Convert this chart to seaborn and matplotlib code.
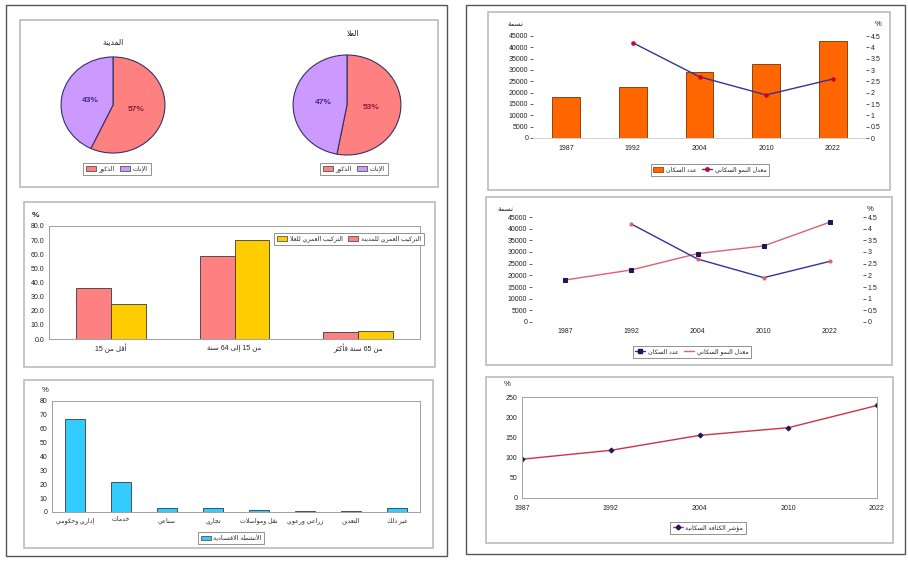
import re
import numpy as np
import pandas as pd
import matplotlib
matplotlib.use("Agg")
import matplotlib.pyplot as plt
from matplotlib.patches import Rectangle, Patch
from matplotlib.lines import Line2D
import seaborn as sns

# ---------------------------------------------------------------- data
pie_titles = ["المدينة", "العلا"]
sex_labels = ["الذكور", "الإناث"]
city_sex = [57, 43]
alula_sex = [53, 47]

age_groups = ["أقل من 15", "من 15 إلى 64 سنة", "من 65 سنة فأكثر"]
age_series = ["التركيب العمري للمدينة", "التركيب العمري للعلا"]
age_city = [36.4, 58.9, 4.7]
age_alula = [24.5, 70.0, 5.5]

sectors = ["إداري وحكومي", "خدمات", "صناعي", "تجاري", "نقل ومواصلات",
           "زراعي ورعوي", "التعدين", "غير ذلك"]
sector_share = [67.0, 21.8, 2.9, 2.6, 1.4, 0.7, 0.5, 3.1]
sector_series = "الأنشطة الاقتصادية"

years = ["1987", "1992", "2004", "2010", "2022"]
population = [18000, 22300, 29300, 32600, 42800]
growth_years = ["1992", "2004", "2010", "2022"]
growth_rate = [4.2, 2.7, 1.9, 2.6]
pop_label = "عدد السكان"
growth_label = "معدل النمو السكاني"
pop_unit = "نسمة"

density_index = [96, 118, 155, 174, 229]
density_label = "مؤشر الكثافة السكانية"

# ---------------------------------------------------------------- arabic shaping
_FORMS = {
    "ء": (0xFE80, 1), "آ": (0xFE81, 2), "أ": (0xFE83, 2), "ؤ": (0xFE85, 2),
    "إ": (0xFE87, 2), "ئ": (0xFE89, 4), "ا": (0xFE8D, 2), "ب": (0xFE8F, 4),
    "ة": (0xFE93, 2), "ت": (0xFE95, 4), "ث": (0xFE99, 4), "ج": (0xFE9D, 4),
    "ح": (0xFEA1, 4), "خ": (0xFEA5, 4), "د": (0xFEA9, 2), "ذ": (0xFEAB, 2),
    "ر": (0xFEAD, 2), "ز": (0xFEAF, 2), "س": (0xFEB1, 4), "ش": (0xFEB5, 4),
    "ص": (0xFEB9, 4), "ض": (0xFEBD, 4), "ط": (0xFEC1, 4), "ظ": (0xFEC5, 4),
    "ع": (0xFEC9, 4), "غ": (0xFECD, 4), "ف": (0xFED1, 4), "ق": (0xFED5, 4),
    "ك": (0xFED9, 4), "ل": (0xFEDD, 4), "م": (0xFEE1, 4), "ن": (0xFEE5, 4),
    "ه": (0xFEE9, 4), "و": (0xFEED, 2), "ى": (0xFEEF, 2), "ي": (0xFEF1, 4),
}
_LAM_ALEF = {"آ": 0xFEF5, "أ": 0xFEF7, "إ": 0xFEF9, "ا": 0xFEFB}


def ar(text):
    """Join Arabic letters into presentation forms and lay them out right-to-left."""
    toks, i = [], 0
    while i < len(text):
        c = text[i]
        if c == "ل" and i + 1 < len(text) and text[i + 1] in _LAM_ALEF:
            toks.append(("LA", _LAM_ALEF[text[i + 1]]))
            i += 2
        else:
            toks.append((c, None))
            i += 1

    def nforms(t):
        return 2 if t[0] == "LA" else _FORMS.get(t[0], (0, 0))[1]

    out = []
    for k, t in enumerate(toks):
        n = nforms(t)
        if n == 0:
            out.append(t[0])
            continue
        base = t[1] if t[0] == "LA" else _FORMS[t[0]][0]
        prev_j = k > 0 and nforms(toks[k - 1]) == 4
        next_j = n == 4 and k + 1 < len(toks) and nforms(toks[k + 1]) >= 2
        if n == 1:
            idx = 0
        elif prev_j and next_j:
            idx = 3
        elif prev_j:
            idx = 1
        elif next_j:
            idx = 2
        else:
            idx = 0
        out.append(chr(base + idx))
    s = "".join(out)[::-1]
    return re.sub(r"[0-9.%/]+", lambda m: m.group(0)[::-1], s)


# ---------------------------------------------------------------- style
sns.set_style("white")
plt.rcParams["font.family"] = ["Liberation Sans", "DejaVu Sans"]
plt.rcParams["axes.unicode_minus"] = False

W, H = 908, 561
fig = plt.figure(figsize=(W / 100, H / 100), dpi=100)
fig.patch.set_facecolor("white")

RED = "#FF8080"
PURPLE = "#CC99FF"
YELLOW = "#FFCC00"
CYAN = "#33CCFF"
ORANGE = "#FF6600"
NAVY = "#333399"
EDGE = "#3A3A3A"
GRID = "#A0A0A0"
TXT = "#222222"
FS = 5


def px_axes(x0, y0, x1, y1):
    return fig.add_axes([x0 / W, 1 - y1 / H, (x1 - x0) / W, (y1 - y0) / H])


def fig_text(x, y, s, **kw):
    kw.setdefault("fontsize", FS)
    kw.setdefault("color", TXT)
    fig.text(x / W, 1 - y / H, s, ha=kw.pop("ha", "center"), va=kw.pop("va", "center"), **kw)


def box(x0, y0, x1, y1, color, lw):
    fig.patches.append(Rectangle((x0 / W, 1 - y1 / H), (x1 - x0) / W, (y1 - y0) / H,
                                 transform=fig.transFigure, fill=False,
                                 edgecolor=color, linewidth=lw, zorder=0))


def legend_at(ax, handles, labels, cx, cy, ncol=None):
    leg = ax.legend(handles, labels, loc="center", ncol=ncol or len(labels),
                    bbox_to_anchor=(cx / W, 1 - cy / H), bbox_transform=fig.transFigure,
                    fontsize=4.5, frameon=True, fancybox=False, framealpha=1,
                    edgecolor="#808080", handlelength=1.6, handleheight=0.8,
                    handletextpad=0.4, columnspacing=0.9, borderpad=0.45)
    leg.get_frame().set_linewidth(0.6)
    return leg


def style_axes(ax, frame=True):
    for side in ["left", "bottom", "top", "right"]:
        ax.spines[side].set_visible(frame)
        ax.spines[side].set_color(GRID)
        ax.spines[side].set_linewidth(0.7)
    ax.tick_params(axis="both", labelsize=FS, colors=TXT, length=2, width=0.5,
                   pad=1.5)
    ax.tick_params(axis="x", length=0, pad=3.5)
    ax.set_xlabel("")
    ax.set_ylabel("")


# ---------------------------------------------------------------- page frames
box(6, 5, 447, 556, "#555555", 1.0)
box(466, 5, 905, 554, "#555555", 1.0)
box(20, 20, 438, 187, "#BBBBBB", 1.2)
box(24, 202, 435, 367, "#BBBBBB", 1.2)
box(24, 380, 433, 548, "#BBBBBB", 1.2)
box(488, 12, 890, 190, "#BBBBBB", 1.2)
box(486, 197, 892, 365, "#BBBBBB", 1.2)
box(486, 377, 893, 543, "#BBBBBB", 1.2)

# ---------------------------------------------------------------- sex pies
pie_specs = [
    (city_sex, pie_titles[0], (60, 56, 166, 154), (113, 43), (117, 169)),
    (alula_sex, pie_titles[1], (292, 54, 402, 156), (353, 35), (354, 169)),
]
for values, title, rect, tpos, lpos in pie_specs:
    ax = px_axes(*rect)
    wedges, _, autotexts = ax.pie(
        values, colors=[RED, PURPLE], startangle=90, counterclock=False,
        autopct=lambda p: f"{round(p):.0f}%", pctdistance=0.45,
        wedgeprops=dict(edgecolor="#333366", linewidth=0.8),
        textprops=dict(fontsize=6, fontweight="bold"))
    autotexts[0].set_color("#8B1A3A")
    autotexts[1].set_color("#3A2A8B")
    ax.set_aspect("auto")
    ax.set_xlim(-1.02, 1.02)
    ax.set_ylim(-1.02, 1.02)
    fig_text(*tpos, ar(title), fontsize=5.5)
    handles = [Patch(facecolor=RED, edgecolor=EDGE, linewidth=0.5),
               Patch(facecolor=PURPLE, edgecolor=EDGE, linewidth=0.5)]
    legend_at(ax, handles, [ar(s) for s in sex_labels], *lpos)

# ---------------------------------------------------------------- age structure
ax = px_axes(49, 226, 420, 339)
df_age = pd.DataFrame({
    "group": [ar(g) for g in age_groups] * 2,
    "series": [ar(age_series[0])] * 3 + [ar(age_series[1])] * 3,
    "value": age_city + age_alula,
})
sns.barplot(data=df_age, x="group", y="value", hue="series",
            palette=[RED, YELLOW], width=0.565, edgecolor=EDGE, linewidth=0.6,
            ax=ax, legend=False, saturation=1)
style_axes(ax)
ax.set_ylim(0, 80)
ax.set_xlim(-0.5, 2.5)
ax.set_yticks(np.arange(0, 81, 10))
ax.set_yticklabels([f"{v:.1f}" for v in np.arange(0, 81, 10)])
ax.set_xticks(np.arange(-0.5, 3, 1), minor=True)
ax.tick_params(axis="x", which="minor", length=2, width=0.5, color=GRID)
fig_text(35, 215, "%", fontsize=6, fontweight="bold")
handles = [Patch(facecolor=YELLOW, edgecolor=EDGE, linewidth=0.5),
           Patch(facecolor=RED, edgecolor=EDGE, linewidth=0.5)]
legend_at(ax, handles, [ar(age_series[1]), ar(age_series[0])], 349, 239)

# ---------------------------------------------------------------- economic activity
ax = px_axes(52, 401, 420, 512)
df_sec = pd.DataFrame({"sector": [ar(s) for s in sectors], "share": sector_share})
sns.barplot(data=df_sec, x="sector", y="share", color=CYAN, width=0.43,
            edgecolor=EDGE, linewidth=0.6, ax=ax, saturation=1)
style_axes(ax)
ax.set_ylim(0, 80)
ax.set_xlim(-0.5, len(sectors) - 0.5)
ax.set_yticks(np.arange(0, 81, 10))
ax.set_xticks(np.arange(-0.5, len(sectors), 1), minor=True)
ax.tick_params(axis="x", which="minor", length=2, width=0.5, color=GRID)
ax.tick_params(axis="x", labelsize=4.5)
fig_text(45, 390, "%", fontsize=5.5)
legend_at(ax, [Patch(facecolor=CYAN, edgecolor=EDGE, linewidth=0.5)],
          [ar(sector_series)], 231, 538)

# ---------------------------------------------------------------- population bars + growth
ax = px_axes(533, 36, 866, 138)
df_pop = pd.DataFrame({"year": years, "population": population})
sns.barplot(data=df_pop, x="year", y="population", color=ORANGE, width=0.42,
            edgecolor="#7A3000", linewidth=0.6, ax=ax, saturation=1)
style_axes(ax, frame=False)
ax.spines["bottom"].set_visible(True)
ax.spines["bottom"].set_color("#D0D0D0")
ax.set_ylim(0, 45000)
ax.set_xlim(-0.5, 4.5)
ax.set_yticks(np.arange(0, 45001, 5000))
ax.tick_params(axis="x", pad=5)
ax.set_xticks(np.arange(-0.5, 5, 1), minor=True)
ax.tick_params(axis="x", which="minor", length=2, width=0.5, color=GRID)
ax2 = ax.twinx()
gx = [years.index(y) for y in growth_years]
sns.lineplot(x=gx, y=growth_rate, ax=ax2, color=NAVY, linewidth=1.0,
             marker="o", markersize=2.5, markerfacecolor="#CC0033",
             markeredgecolor="#CC0033")
for s in ax2.spines.values():
    s.set_visible(False)
ax2.set_ylim(0, 4.5)
ax2.set_yticks(np.arange(0, 4.51, 0.5))
ax2.set_yticklabels([f"{v:g}" for v in np.arange(0, 4.51, 0.5)])
ax2.tick_params(axis="y", labelsize=FS, colors=TXT, length=2, width=0.5, pad=1.5)
ax2.set_ylabel("")
ax.set_xlim(-0.5, 4.5)
fig_text(515, 25, ar(pop_unit), fontsize=5)
fig_text(878, 25, "%", fontsize=5.5)
handles = [Patch(facecolor=ORANGE, edgecolor="#7A3000", linewidth=0.5),
           Line2D([], [], color=NAVY, linewidth=1, marker="o", markersize=2.5,
                  markerfacecolor="#CC0033", markeredgecolor="#CC0033")]
legend_at(ax2, handles, [ar(pop_label), ar(growth_label)], 710, 170)

# ---------------------------------------------------------------- population & growth lines
ax = px_axes(532, 217, 863, 322)
px = list(range(len(years)))
sns.lineplot(x=px, y=population, ax=ax, color="#E06070", linewidth=1.0,
             marker="s", markersize=2.8, markerfacecolor="#1A1A5A",
             markeredgecolor="#1A1A5A")
style_axes(ax, frame=False)
ax.set_ylim(0, 45000)
ax.set_xlim(-0.5, 4.5)
ax.set_yticks(np.arange(0, 45001, 5000))
ax.set_xticks(px)
ax.set_xticklabels(years)
ax.set_xticks(np.arange(-0.5, 5, 1), minor=True)
ax.tick_params(axis="x", which="minor", length=2, width=0.5, color="#D0D0D0")
ax.tick_params(axis="x", pad=4)
ax2 = ax.twinx()
sns.lineplot(x=gx, y=growth_rate, ax=ax2, color=NAVY, linewidth=1.0,
             marker="o", markersize=2.2, markerfacecolor="#E06070",
             markeredgecolor="#E06070")
for s in ax2.spines.values():
    s.set_visible(False)
ax2.set_ylim(0, 4.5)
ax2.set_yticks(np.arange(0, 4.51, 0.5))
ax2.set_yticklabels([f"{v:g}" for v in np.arange(0, 4.51, 0.5)])
ax2.tick_params(axis="y", labelsize=FS, colors=TXT, length=2, width=0.5, pad=1.5)
ax2.set_ylabel("")
ax.set_xlim(-0.5, 4.5)
fig_text(505, 210, ar(pop_unit), fontsize=5)
fig_text(870, 210, "%", fontsize=5.5)
handles = [Line2D([], [], color=NAVY, linewidth=1, marker="s", markersize=2.5,
                  markerfacecolor="#1A1A5A", markeredgecolor="#1A1A5A"),
           Line2D([], [], color="#E06070", linewidth=1)]
legend_at(ax2, handles, [ar(pop_label), ar(growth_label)], 692, 352)

# ---------------------------------------------------------------- density index
ax = px_axes(522, 397, 877, 498)
sns.lineplot(x=px, y=density_index, ax=ax, color="#CC3344", linewidth=1.0,
             marker="D", markersize=2.5, markerfacecolor="#1A1A5A",
             markeredgecolor="#1A1A5A")
style_axes(ax)
ax.set_ylim(0, 250)
ax.set_xlim(0, 4)
ax.set_yticks(np.arange(0, 251, 50))
ax.set_xticks(px)
ax.set_xticklabels(years)
ax.tick_params(axis="x", length=2, width=0.5, color=GRID, pad=3)
fig_text(507, 385, "%", fontsize=5.5)
legend_at(ax, [Line2D([], [], color="#CC3344", linewidth=1, marker="D",
                      markersize=2.5, markerfacecolor="#1A1A5A",
                      markeredgecolor="#1A1A5A")],
          [ar(density_label)], 708, 528)

fig.savefig("out.png", dpi=100, facecolor="white")
